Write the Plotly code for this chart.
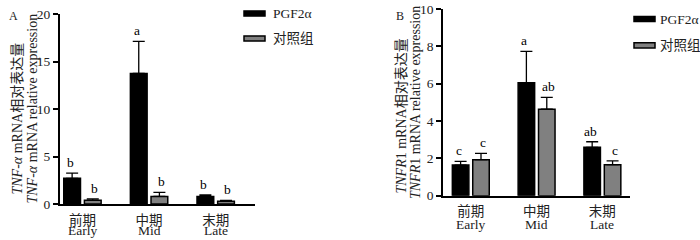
import plotly.graph_objects as go

categories = ["前期", "中期", "末期"]
categories_en = ["Early", "Mid", "Late"]
series_names = ["PGF2α", "对照组"]

# Panel A: TNF-α
a_pgf = [2.7, 13.75, 0.8]
a_pgf_err = [0.56, 3.37, 0.15]
a_ctl = [0.39, 0.8, 0.28]
a_ctl_err = [0.14, 0.43, 0.11]
a_pgf_letters = ["b", "a", "b"]
a_ctl_letters = ["b", "b", "b"]

# Panel B: TNFR1
b_pgf = [1.64, 6.05, 2.59]
b_pgf_err = [0.2, 1.68, 0.3]
b_ctl = [1.93, 4.63, 1.66]
b_ctl_err = [0.34, 0.64, 0.2]
b_pgf_letters = ["c", "a", "ab"]
b_ctl_letters = ["c", "ab", "c"]

FONT = "Liberation Serif, Times New Roman, Noto Sans CJK SC"
W, H = 700, 240
TXT = "#222"


def px_x(p):
    return p / W


def px_y(p_target):
    # vertical placement compensated for the page's photographed vertical mapping
    p = (p_target - 8) / 0.9375
    return 1 - p / H


colors = ["#000000", "#808080"]

panels = [
    dict(pgf=a_pgf, pe=a_pgf_err, ctl=a_ctl, ce=a_ctl_err, lp=a_pgf_letters, lc=a_ctl_letters,
         xa="x", ya="y", en_px=231),
    dict(pgf=b_pgf, pe=b_pgf_err, ctl=b_ctl, ce=b_ctl_err, lp=b_pgf_letters, lc=b_ctl_letters,
         xa="x2", ya="y2", en_px=225),
]

fig = go.Figure()
for p in panels:
    for i, (vals, errs, name) in enumerate([(p["pgf"], p["pe"], series_names[0]),
                                             (p["ctl"], p["ce"], series_names[1])]):
        fig.add_trace(go.Bar(
            x=categories, y=vals, name=name, showlegend=False,
            marker=dict(color=colors[i], line=dict(color="black", width=1.5)),
            error_y=dict(type="data", array=errs, arrayminus=[0] * len(errs), symmetric=False,
                         color="black", thickness=1.3, width=6),
            xaxis=p["xa"], yaxis=p["ya"],
        ))

annotations = []
for p in panels:
    for i, (vals, errs, letters) in enumerate([(p["pgf"], p["pe"], p["lp"]),
                                                (p["ctl"], p["ce"], p["lc"])]):
        for j, c in enumerate(categories):
            annotations.append(dict(
                x=c, y=vals[j] + errs[j], text=letters[j], xref=p["xa"], yref=p["ya"],
                showarrow=False, yanchor="bottom", yshift=1,
                xshift=(-12.3 if i == 0 else 12.3),
                font=dict(family=FONT, size=13.5, color="black")))
    for j, c in enumerate(categories):
        annotations.append(dict(
            x=c, y=px_y(p["en_px"]), text=categories_en[j], xref=p["xa"], yref="paper",
            showarrow=False, yanchor="middle",
            font=dict(family=FONT, size=13.5, color=TXT)))

TF = dict(family=FONT, size=14, color=TXT)
annotations += [
    dict(x=px_x(7), y=px_y(120), xref="paper", yref="paper", showarrow=False, textangle=-90,
         text="<i>TNF-α</i> mRNA相对表达量", font=TF),
    dict(x=px_x(22), y=px_y(110), xref="paper", yref="paper", showarrow=False, textangle=-90,
         text="<i>TNF-α</i> mRNA relative expression", font=TF),
    dict(x=px_x(400.5), y=px_y(117), xref="paper", yref="paper", showarrow=False, textangle=-90,
         text="<i>TNFR</i>1 mRNA相对表达量", font=TF),
    dict(x=px_x(415), y=px_y(104), xref="paper", yref="paper", showarrow=False, textangle=-90,
         text="<i>TNFR</i>1 mRNA relative expression", font=TF),
    dict(x=px_x(7), y=1, xref="paper", yref="paper", showarrow=False, yanchor="top",
         text="A", font=dict(family=FONT, size=12, color=TXT)),
    dict(x=px_x(400), y=1, xref="paper", yref="paper", showarrow=False, yanchor="top",
         text="B", font=dict(family=FONT, size=12, color=TXT)),
]

shapes = []
legend_specs = [
    dict(x0=244, y_rows=[14.5, 39.5], tx=271),
    dict(x0=634, y_rows=[20, 46.3], tx=658),
]
for spec in legend_specs:
    for k, name in enumerate(series_names):
        yc = spec["y_rows"][k]
        shapes.append(dict(type="rect", xref="paper", yref="paper",
                           x0=px_x(spec["x0"]), x1=px_x(spec["x0"] + 21),
                           y0=px_y(yc + 2.6), y1=px_y(yc - 2.6),
                           fillcolor=colors[k], line=dict(color="black", width=1.5)))
        annotations.append(dict(x=px_x(spec["tx"]), y=px_y(yc), xref="paper", yref="paper",
                                showarrow=False, xanchor="left", yanchor="middle", text=name,
                                font=dict(family=FONT, size=13.5, color=TXT)))

axis_common = dict(showgrid=False, zeroline=False, showline=True, linecolor="black", linewidth=2,
                   tickfont=dict(family=FONT, size=13.5, color=TXT))
xfont = dict(family=FONT, size=13.5, color=TXT)

fig.update_layout(
    width=W, height=H, margin=dict(l=0, r=0, t=0, b=0),
    paper_bgcolor="white", plot_bgcolor="white",
    barmode="group", bargap=0.38, bargroupgap=0.19,
    showlegend=False,
    xaxis=dict(domain=[px_x(60), px_x(255)], range=[-0.337, 2.59], ticks="",
               showgrid=False, zeroline=False, showline=True, linecolor="black", linewidth=2,
               tickfont=xfont, ticklabelstandoff=3),
    yaxis=dict(domain=[px_y(205), px_y(15)], range=[0, 20], tickvals=[0, 5, 10, 15, 20],
               ticks="outside", ticklen=5, tickwidth=2, tickcolor="black", anchor="x", **axis_common),
    xaxis2=dict(domain=[px_x(443.3), px_x(630)], range=[-0.418, 2.42], ticks="", anchor="y2",
                showgrid=False, zeroline=False, showline=True, linecolor="black", linewidth=2,
                tickfont=xfont, ticklabelstandoff=2),
    yaxis2=dict(domain=[px_y(196.7), px_y(10)], range=[0, 10], tickvals=[0, 2, 4, 6, 8, 10],
                ticks="outside", ticklen=5, tickwidth=2, tickcolor="black", anchor="x2", **axis_common),
    annotations=annotations,
    shapes=shapes,
)

fig.write_html(
    "out.html",
    config={"displayModeBar": False, "staticPlot": True},
    post_script="document.documentElement.style.margin='0';document.body.style.margin='0';"
                "document.documentElement.style.overflow='hidden';document.body.style.overflow='hidden';",
)
